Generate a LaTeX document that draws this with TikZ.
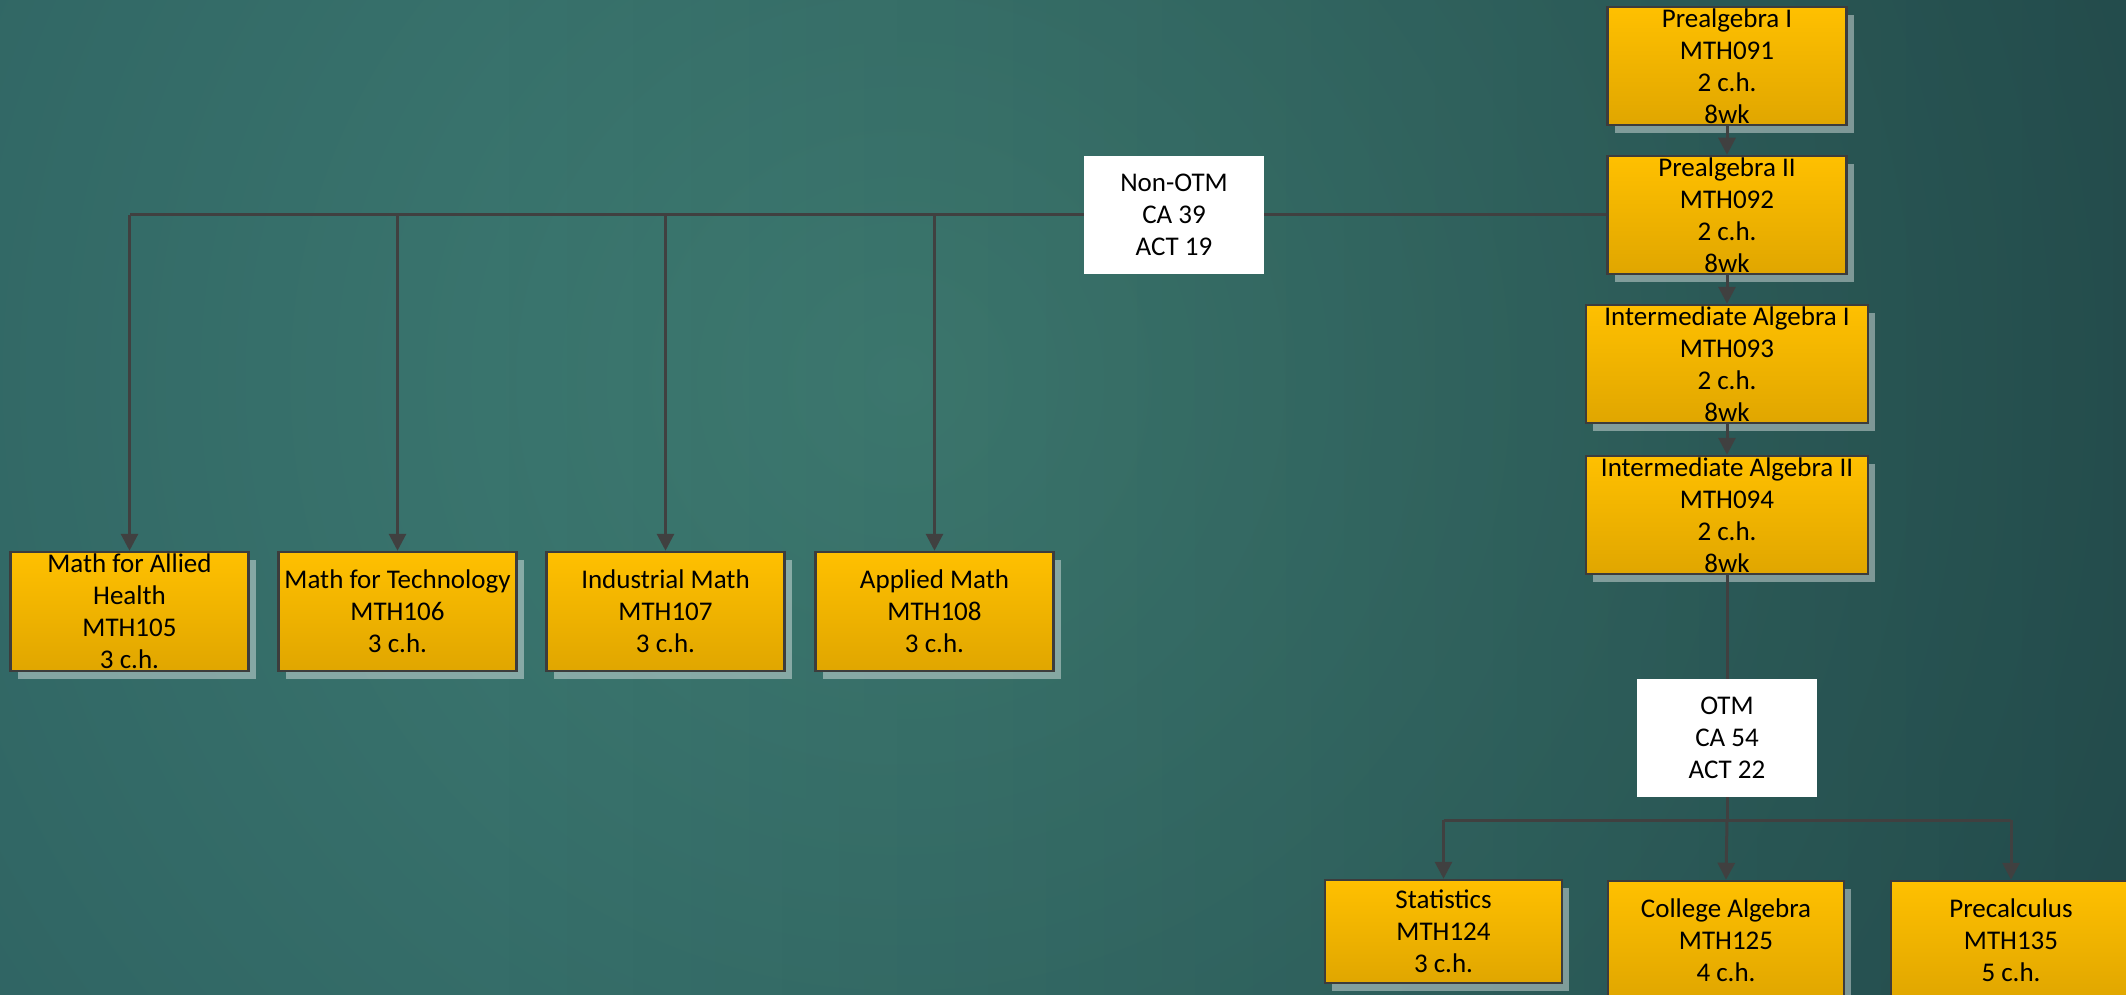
\documentclass[tikz,border=0pt]{standalone}
\usepackage{fontspec}
\setmainfont{Carlito}
\usetikzlibrary{arrows.meta,shadows,fadings}
\definecolor{bgin}{HTML}{3F7D73}
\definecolor{bgout}{HTML}{183F4B}
\definecolor{boxtop}{HTML}{FFC000}
\definecolor{boxbot}{HTML}{E0A600}
\definecolor{edgec}{HTML}{3C3C3C}
\definecolor{linc}{HTML}{404040}
\tikzset{
  course/.style={draw=edgec, line width=2.5pt, top color=boxtop, bottom color=boxbot,
    inner sep=0pt, align=center, text=black, font={\fontsize{27}{32}\selectfont},
    drop shadow={shadow xshift=7pt, shadow yshift=-8pt, fill=white, opacity=0.4, draw=none}},
  tagbox/.style={fill=white, inner sep=0pt, align=center, text=black,
    font={\fontsize{27}{32}\selectfont}, minimum width=180pt, minimum height=118pt},
  conn/.style={draw=linc, line width=3pt},
  arr/.style={conn, -{Triangle[width=17pt,length=17pt]}},
  pre box/.style={course, minimum width=239pt, minimum height=118pt},
  ia box/.style={course, minimum width=282pt, minimum height=118pt},
  low box/.style={course, minimum width=238pt, minimum height=119pt},
}
\begin{document}
\begin{tikzpicture}[x=1pt,y=-1pt]
\useasboundingbox (0,0) rectangle (2126,995);
\begin{scope}
  \clip (0,0) rectangle (2126,995);
  \shade[inner color=bgin, outer color=bgout] (900,380) circle (2800);
  \fill[black, opacity=0.28, path fading=west] (500,-50) rectangle (2600,1050);
\end{scope}

% right column
\node[pre box] (p1) at (1727,66) {Prealgebra I\\MTH091\\2 c.h.\\8wk};
\node[pre box] (p2) at (1727,215) {Prealgebra II\\MTH092\\2 c.h.\\8wk};
\node[ia box] (ia1) at (1727,364) {Intermediate Algebra I\\MTH093\\2 c.h.\\8wk};
\node[ia box] (ia2) at (1727,515) {Intermediate Algebra II\\MTH094\\2 c.h.\\8wk};

% tags
\node[tagbox] (non) at (1174,215) {Non-OTM\\CA 39\\ACT 19};
\node[tagbox] (otm) at (1727,738) {OTM\\CA 54\\ACT 22};

% non-OTM courses
\node[low box] (m105) at (129.5,611.5) {Math for Allied\\Health\\MTH105\\3 c.h.};
\node[low box] (m106) at (397.5,611.5) {Math for Technology\\MTH106\\3 c.h.};
\node[low box] (m107) at (665.5,611.5) {Industrial Math\\MTH107\\3 c.h.};
\node[low box] (m108) at (934.5,611.5) {Applied Math\\MTH108\\3 c.h.};

% OTM courses
\node[course, minimum width=237pt, minimum height=103pt] (stat) at (1443.5,931.5) {Statistics\\MTH124\\3 c.h.};
\node[course, minimum width=236pt, minimum height=119pt] (cal) at (1726,940.5) {College Algebra\\MTH125\\4 c.h.};
\node[course, minimum width=240pt, minimum height=119pt] (prc) at (2011,940.5) {Precalculus\\MTH135\\5 c.h.};

% connectors
\draw[arr] (p1) -- (p2);
\draw[arr] (p2) -- (ia1);
\draw[arr] (ia1) -- (ia2);
\draw[conn] (p2.west) -- (non.east);
\draw[conn] (non.west) -- (non.west -| m105.north);
\draw[arr] (non.west -| m105.north) -- (m105.north);
\draw[arr] (non.west -| m106.north) -- (m106.north);
\draw[arr] (non.west -| m107.north) -- (m107.north);
\draw[arr] (non.west -| m108.north) -- (m108.north);

\draw[conn] (ia2.south) -- (otm.north);
\coordinate (hub) at (1727,820);
\draw[conn] (otm.south) -- (hub);
\draw[conn] (hub -| stat.north) -- (hub -| prc.north);
\draw[arr] (hub -| stat.north) -- (stat.north);
\draw[arr] (hub) -- (cal.north);
\draw[arr] (hub -| prc.north) -- (prc.north);
\end{tikzpicture}
\end{document}
